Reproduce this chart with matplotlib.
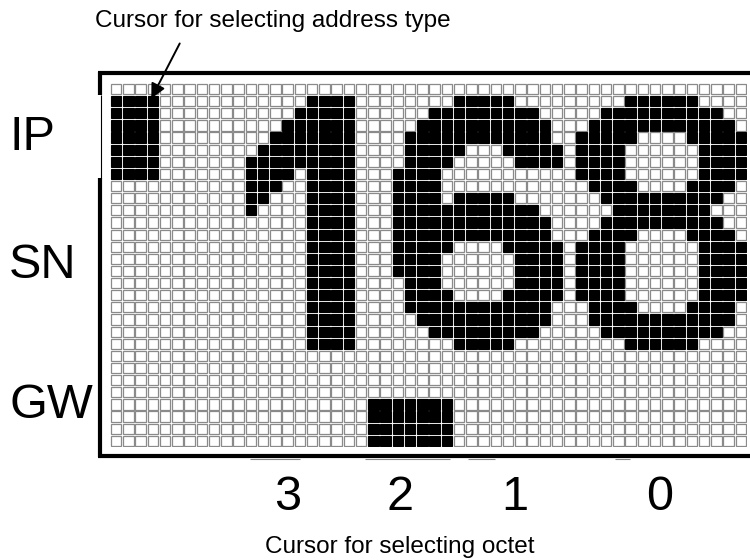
import matplotlib.pyplot as plt
from matplotlib.patches import Rectangle

plt.rcParams['font.family'] = ['Liberation Sans', 'DejaVu Sans']

# display size in cells
n_cols = 52
n_rows = 30

# lit cells: row -> list of (first col, last col)
cursor_ip = {r: [(0, 3)] for r in range(1, 8)}

digit_1 = {1: [(16, 19)], 2: [(15, 19)], 3: [(14, 19)], 4: [(13, 19)],
           5: [(12, 19)], 6: [(11, 19)], 7: [(11, 14), (16, 19)],
           8: [(11, 13), (16, 19)], 9: [(11, 12), (16, 19)],
           10: [(11, 11), (16, 19)]}
for r in range(11, 22):
    digit_1[r] = [(16, 19)]

digit_6 = {1: [(28, 32)], 2: [(26, 34)], 3: [(25, 35)], 4: [(24, 35)],
           5: [(24, 28), (32, 36)], 6: [(24, 27), (33, 36)],
           7: [(23, 26)], 8: [(23, 26)], 9: [(23, 26), (28, 32)],
           10: [(23, 34)], 11: [(23, 35)], 12: [(23, 35)],
           13: [(23, 27), (32, 36)], 14: [(23, 26), (33, 36)],
           15: [(23, 26), (33, 36)], 16: [(24, 26), (33, 36)],
           17: [(24, 27), (32, 36)], 18: [(24, 35)], 19: [(25, 35)],
           20: [(26, 34)], 21: [(28, 32)]}

digit_8 = {1: [(42, 47)], 2: [(40, 49)], 3: [(39, 50)],
           4: [(38, 42), (47, 51)], 5: [(38, 41), (48, 51)],
           6: [(38, 41), (48, 51)], 7: [(38, 41), (48, 51)],
           8: [(39, 42), (47, 50)], 9: [(40, 49)], 10: [(41, 48)],
           11: [(40, 49)], 12: [(39, 42), (47, 50)],
           13: [(38, 41), (48, 51)], 14: [(38, 41), (48, 51)],
           15: [(38, 41), (48, 51)], 16: [(38, 41), (48, 51)],
           17: [(38, 41), (48, 51)], 18: [(39, 42), (47, 50)],
           19: [(39, 50)], 20: [(40, 49)], 21: [(42, 47)]}

cursor_octet = {r: [(21, 27)] for r in range(26, 30)}

row_labels = ["IP", "SN", "GW"]
octet_labels = ["3", "2", "1", "0"]

lit = set()
for glyph in [cursor_ip, digit_1, digit_6, digit_8, cursor_octet]:
    for r, runs in glyph.items():
        for c0, c1 in runs:
            for c in range(c0, c1 + 1):
                lit.add((r, c))

W, H = 750, 560
fig = plt.figure(figsize=(7.5, 5.6), dpi=100)
fig.patch.set_facecolor('white')

# grid area in pixels
gx0, gy0, pw, ph = 110, 83, 12.25, 12.13
ax = fig.add_axes([gx0 / W, 1 - (gy0 + n_rows * ph) / H, n_cols * pw / W, n_rows * ph / H])
ax.set_xlim(0, n_cols)
ax.set_ylim(n_rows, 0)
ax.axis('off')

s = 0.84
for r in range(n_rows):
    for c in range(n_cols):
        if (r, c) in lit:
            ax.add_patch(Rectangle((c + (1 - s) / 2, r + (1 - s) / 2), s, s,
                                   facecolor='black', edgecolor='black', lw=0.8))
        else:
            ax.add_patch(Rectangle((c + (1 - s) / 2, r + (1 - s) / 2), s, s,
                                   facecolor='white', edgecolor='#8a8a8a', lw=0.9))

# overlay in pixel coordinates for frame and labels
ov = fig.add_axes([0, 0, 1, 1], facecolor='none')
ov.set_xlim(0, W)
ov.set_ylim(H, 0)
ov.axis('off')

ov.plot([98, W], [73, 73], color='black', lw=3, solid_capstyle='butt')
ov.plot([100, 100], [72, 95], color='black', lw=3, solid_capstyle='butt')
ov.plot([101, 101], [95, 178], color='black', lw=0.8, solid_capstyle='butt')
ov.plot([100, 100], [178, 457], color='black', lw=3, solid_capstyle='butt')
ov.plot([98, W], [456, 456], color='black', lw=3, solid_capstyle='butt')
# faint cursor marks under the bottom frame
for x0, x1 in [(250, 300), (365, 450), (468, 495), (615, 630)]:
    ov.plot([x0, x1], [459, 459], color='#888888', lw=0.8, solid_capstyle='butt')

ov.text(95, 21, "Cursor for selecting address type", fontsize=17.5, ha='left', va='center')
ov.annotate('', xy=(150, 101), xytext=(181, 41),
            arrowprops=dict(arrowstyle='-|>', color='black', lw=1.4, mutation_scale=22))

for lab, y in zip(row_labels, [137, 265, 405]):
    ov.text(9, y, lab, fontsize=35, ha='left', va='center')

for lab, x in zip(octet_labels, [288, 400, 515, 660]):
    ov.text(x, 497, lab, fontsize=35, ha='center', va='center')

ov.text(400, 547, "Cursor for selecting octet", fontsize=17.5, ha='center', va='center')

fig.savefig('out.png', dpi=100)
